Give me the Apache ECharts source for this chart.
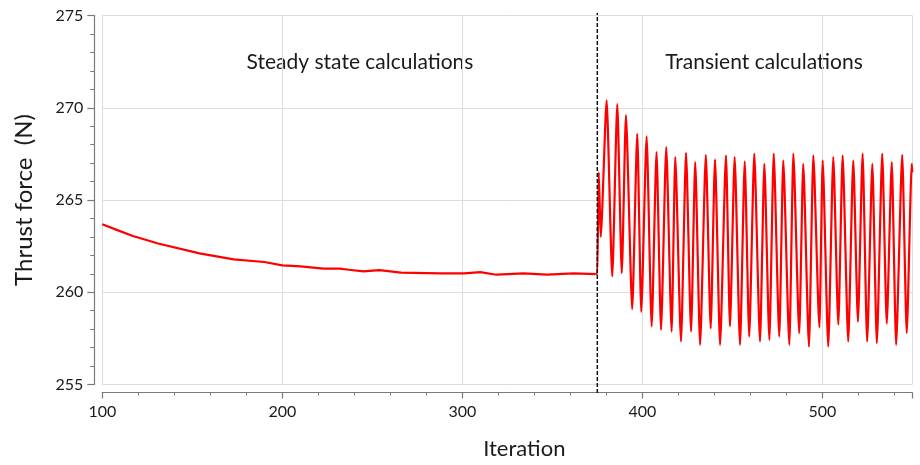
<!DOCTYPE html>
<html>
<head>
<meta charset="utf-8">
<script src="https://cdn.jsdelivr.net/npm/echarts@6/dist/echarts.min.js"></script>
<style>
  html, body { margin: 0; padding: 0; background: #ffffff; }
  #chart { width: 920px; height: 465px; }
</style>
</head>
<body>
<div id="chart"></div>
<script>
// Steady-state solver history (iteration, thrust in N)
const steadyIter = [100, 108, 117, 131, 154, 173, 190, 200, 210, 223, 232, 237, 245, 254, 266, 288, 301, 310, 319, 334, 347, 362, 374];
const steadyForce = [263.69, 263.38, 263.05, 262.64, 262.11, 261.78, 261.64, 261.46, 261.40, 261.28, 261.28, 261.22, 261.13, 261.20, 261.06, 261.02, 261.02, 261.09, 260.95, 261.02, 260.95, 261.02, 260.98];

// Transient solver history: oscillating thrust after the switch
const transientIter = [374, 375.0, 375.8, 376.9, 380.2, 383.3, 386.1, 388.6, 390.9, 394.4, 397.2, 399.4, 402.4, 405.2, 407.9, 410.4,
  413.3, 416.3, 418.3, 421.5, 424.3, 427.1, 429.4, 432.1, 435.3, 438.0, 440.4, 443.2, 446.5, 448.7, 451.3, 454.3,
  456.9, 459.4, 462.2, 465.4, 467.8, 470.6, 473.0, 476.1, 478.3, 481.7, 483.9, 487.2, 489.4, 492.6, 495.0, 498.4,
  500.2, 503.3, 506.1, 508.9, 511.3, 514.4, 517.2, 519.8, 522.4, 524.9, 527.8, 530.3, 533.3, 535.8, 538.6, 541.0,
  544.4, 546.9, 549.7, 550.0];
const transientForce = [260.98, 261.0, 266.5, 263.0, 270.4, 260.86, 270.2, 261.04, 269.6, 259.08, 268.58, 258.94, 268.45, 258.15, 267.6, 257.96,
  267.87, 257.87, 267.33, 257.33, 267.56, 257.87, 267.05, 257.15, 267.45, 258.05, 267.2, 257.15, 267.42, 258.15, 267.33, 257.15,
  267.09, 257.6, 267.51, 257.33, 266.96, 257.42, 267.51, 257.6, 267.15, 257.15, 267.51, 257.78, 266.96, 257.05, 267.42, 258.1,
  267.15, 257.05, 267.33, 258.24, 267.42, 257.33, 267.15, 258.4, 267.51, 257.33, 266.96, 257.24, 267.51, 258.3, 267.05, 257.15,
  267.45, 257.78, 266.96, 266.5];

// Iteration where the solver switches from steady to transient
const switchIter = [375];

// Axis ranges / ticks
const xTicks = { min: 100, max: 550, interval: 100 };
const yTicks = { min: 255, max: 275, interval: 5 };

const phaseLabels = ['Steady state calculations', 'Transient calculations'];

const steadyData = steadyIter.map((it, i) => [it, steadyForce[i]]);
const transientData = transientIter.map((it, i) => [it, transientForce[i]]);

const FONT = 'Lato, "Noto Sans", sans-serif';
const axisGray = '#7a7a7a';
const gridGray = '#dcdcdc';
const RED = '#ff0000';

const chart = echarts.init(document.getElementById('chart'), null, { renderer: 'canvas' });

chart.setOption({
  animation: false,
  backgroundColor: '#ffffff',
  grid: [
    { left: 102.3, right: 7.7, top: 15.5, bottom: 80.5, containLabel: false, outerBoundsMode: 'none' },
    { left: 102.3, right: 7.7, top: 13, bottom: 72, containLabel: false, outerBoundsMode: 'none' }
  ],
  xAxis: [
    {
      type: 'value', gridIndex: 0,
      min: xTicks.min, max: xTicks.max, interval: xTicks.interval,
      offset: 8,
      name: 'Iteration',
      nameLocation: 'middle',
      nameGap: 45,
      nameTextStyle: { fontFamily: FONT, fontSize: 22, color: '#1a1a1a', padding: [0, 0, 0, 34] },
      axisLine: { show: true, onZero: false, lineStyle: { color: axisGray, width: 1.2 } },
      axisTick: { show: true, inside: false, length: 6, lineStyle: { color: axisGray, width: 1.2 } },
      minorTick: { show: true, splitNumber: 5, length: 3, lineStyle: { color: axisGray, width: 1 } },
      axisLabel: { fontFamily: FONT, fontSize: 16, color: '#1a1a1a', margin: 11, showMaxLabel: false },
      splitLine: { show: true, lineStyle: { color: gridGray, width: 1 } },
      minorSplitLine: { show: false }
    },
    {
      type: 'value', gridIndex: 1,
      min: xTicks.min, max: xTicks.max, show: false
    }
  ],
  yAxis: [
    {
      type: 'value', gridIndex: 0,
      min: yTicks.min, max: yTicks.max, interval: yTicks.interval,
      offset: 8,
      name: 'Thrust force  (N)',
      nameLocation: 'middle',
      nameRotate: 90,
      nameGap: 58,
      nameTextStyle: { fontFamily: FONT, fontSize: 24, color: '#1a1a1a' },
      axisLine: { show: true, onZero: false, lineStyle: { color: axisGray, width: 1.2 } },
      axisTick: { show: true, inside: false, length: 7, lineStyle: { color: axisGray, width: 1.2 } },
      minorTick: { show: true, splitNumber: 5, length: 4, lineStyle: { color: axisGray, width: 1 } },
      axisLabel: { fontFamily: FONT, fontSize: 16, color: '#1a1a1a', margin: 11 },
      splitLine: { show: true, lineStyle: { color: gridGray, width: 1 } }
    },
    {
      type: 'value', gridIndex: 1,
      min: 0, max: 1, show: false
    }
  ],
  graphic: [
    {
      type: 'text', x: 360, y: 62, silent: true,
      style: { text: phaseLabels[0], font: '21px ' + FONT, fill: '#1a1a1a', align: 'center', verticalAlign: 'middle' }
    },
    {
      type: 'text', x: 764, y: 62, silent: true,
      style: { text: phaseLabels[1], font: '21px ' + FONT, fill: '#1a1a1a', align: 'center', verticalAlign: 'middle' }
    }
  ],
  series: [
    {
      name: 'Steady',
      type: 'line',
      xAxisIndex: 0, yAxisIndex: 0,
      data: steadyData,
      showSymbol: false,
      symbol: 'none',
      lineStyle: { color: RED, width: 2.2 },
      z: 3
    },
    {
      name: 'Transient',
      type: 'line',
      xAxisIndex: 0, yAxisIndex: 0,
      data: transientData,
      showSymbol: false,
      symbol: 'none',
      smooth: 0.2,
      smoothMonotone: 'x',
      lineStyle: { color: RED, width: 2.2 },
      z: 3
    },
    {
      // dashed divider between the two solver phases
      type: 'line',
      xAxisIndex: 1, yAxisIndex: 1,
      data: [[switchIter[0], 0], [switchIter[0], 1]],
      showSymbol: false,
      symbol: 'none',
      lineStyle: { color: '#111111', width: 1.5, type: [4, 2] },
      z: 4
    }
  ]
});
</script>
</body>
</html>
